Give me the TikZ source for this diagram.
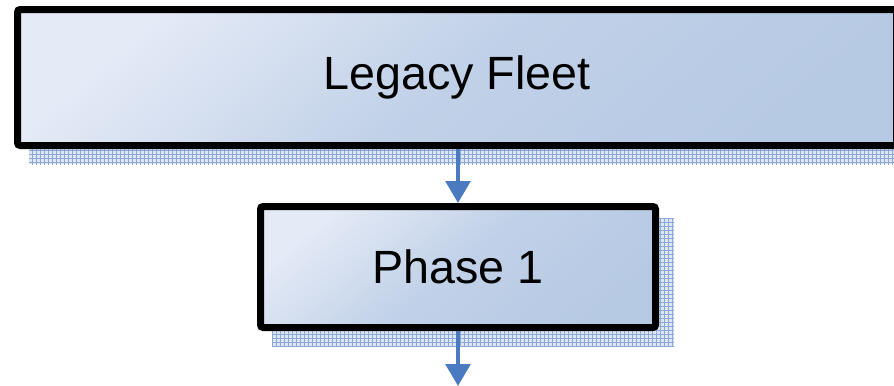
\documentclass[tikz,border=0pt]{standalone}
\usepackage{fontspec}
\setmainfont{Liberation Sans}
\usetikzlibrary{arrows.meta,patterns,backgrounds}

\definecolor{boxLight}{RGB}{228,234,246}
\definecolor{boxDark}{RGB}{183,202,228}
\definecolor{shadowGrid}{RGB}{140,170,215}
\definecolor{shadowFill}{RGB}{222,230,242}
\definecolor{arrowBlue}{RGB}{74,122,192}

\tikzset{
  phaseBox/.style={draw=black, line width=5.25pt, rounded corners=2pt,
    top color=boxLight, bottom color=boxDark,
    middle color=boxDark!80!boxLight, shading angle=40,
    font=\fontsize{35}{42}\selectfont, inner sep=0pt},
  boxShadow/.style={preaction={fill=shadowFill}, pattern=grid,
    pattern color=shadowGrid},
  flowArrow/.style={draw=arrowBlue, line width=3pt,
    -{Triangle[width=18.5pt,length=16.5pt]}}
}

\begin{document}
\begin{tikzpicture}[x=0.75pt, y=-0.75pt]
      \useasboundingbox (0,0) rectangle (894,386);
      % legacyFleet:
      %   the wide box on top, running out past the right edge
      \node[phaseBox, minimum width=659.25pt, minimum height=102pt]
        (legacyFleet) at (457,77.5) {Legacy Fleet};
      % phaseOne:
      %   first phase below the fleet
      \node[phaseBox, minimum width=296.25pt, minimum height=90.75pt]
        (phaseOne) at (458,267) {Phase 1};
      % nextPhase:
      %   the arrow leaves the picture at the bottom
      \coordinate (nextPhase) at (458,386);
      % shadows behind both boxes
      \begin{scope}[on background layer]
        \fill[boxShadow] ([shift={(15,15)}]legacyFleet.north west)
          rectangle ([shift={(15,15)}]legacyFleet.south east);
        \fill[boxShadow] ([shift={(15,15)}]phaseOne.north west)
          rectangle ([shift={(15,15)}]phaseOne.south east);
      \end{scope}
      \draw[flowArrow] (legacyFleet.south -| phaseOne.north) -- (phaseOne.north);
      \draw[flowArrow] (phaseOne.south) -- (nextPhase);
    \end{tikzpicture}
\end{document}
